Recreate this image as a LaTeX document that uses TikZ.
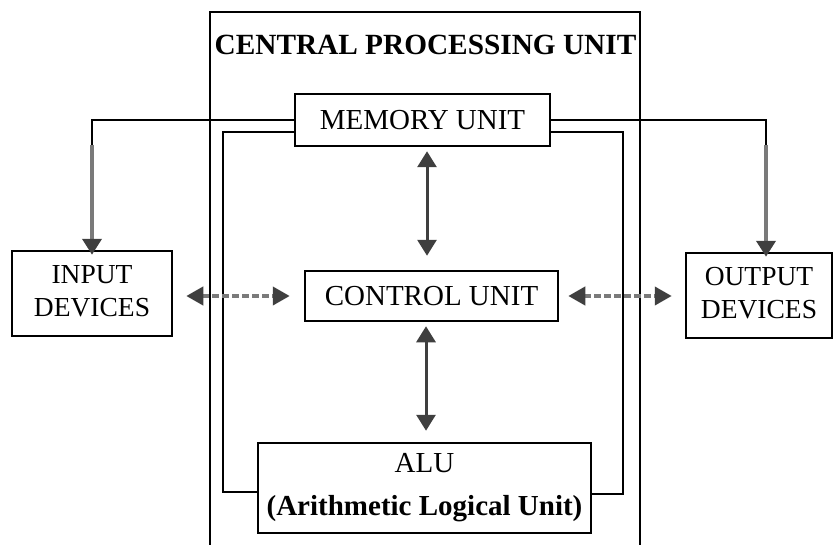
\documentclass[tikz,border=0pt]{standalone}
\usepackage{fontspec}
\setmainfont{Liberation Serif}
\usetikzlibrary{arrows.meta,calc}
\definecolor{arrgray}{HTML}{7A7A7A}
\definecolor{tipgray}{HTML}{3F3F3F}
\newcommand{\twolines}[3]{\raisebox{#3}{\begin{tabular}{@{}c@{}}#1\\#2\end{tabular}}}
\begin{document}
\begin{tikzpicture}[x=1pt,y=-1pt,
  boxstyle/.style={draw=black,line width=2.5pt,inner sep=0pt,align=center,
     font=\fontsize{29}{33}\selectfont},
  sidebox/.style={boxstyle,font=\fontsize{27.5}{33}\selectfont},
  wire/.style={draw=black,line width=2pt},
  biarrow/.style={draw=tipgray,line width=3pt,{Triangle[length=16pt,width=19pt]}-{Triangle[length=16pt,width=19pt]}},
  dasharrow/.style={draw=arrgray,line width=4pt,dash pattern=on 7pt off 3pt,
     {Triangle[length=17pt,width=18pt,color=tipgray]}-{Triangle[length=17pt,width=18pt,color=tipgray]}},
  downarrow/.style={draw=arrgray,line width=4pt,-{Triangle[length=16pt,width=19pt,color=tipgray]}}]
\useasboundingbox (0,0) rectangle (834,545);
% CPU frame (open at bottom)
\coordinate (cpubl) at (209.5,545);
\coordinate (cputl) at (209.5,12);
\coordinate (cputr) at (640,12);
\coordinate (cpubr) at (640,545);
\draw[wire] (cpubl) -- (cputl) -- (cputr) -- (cpubr);
\node[font=\fontsize{29.3}{33}\selectfont\bfseries,inner sep=0pt] (title) at (425.5,45) {CENTRAL PROCESSING UNIT};
% boxes
\node[boxstyle,minimum width=255pt,minimum height=52pt,fill=white] (mem) at (422.5,120) {MEMORY UNIT};
\node[boxstyle,minimum width=253pt,minimum height=50pt] (ctrl) at (431.5,296) {CONTROL UNIT};
\node[boxstyle,minimum width=333pt,minimum height=90pt] (alu) at (424.5,488) {ALU\\[10pt]\textbf{(Arithmetic Logical Unit)}};
\node[sidebox,minimum width=160pt,minimum height=85pt] (in) at (92,293.5) {\twolines{INPUT}{DEVICES}{5pt}};
\node[sidebox,minimum width=146pt,minimum height=85pt] (out) at (759,295.5) {\twolines{OUTPUT}{DEVICES}{7pt}};
% inner loop
\coordinate (lt) at (223,132);
\coordinate (lb) at (223,492);
\coordinate (rt) at (623,132);
\coordinate (rb) at (623,494);
\draw[wire] (mem.west |- lt) -- (lt) -- (lb) -- (alu.west |- lb);
\draw[wire] (mem.east |- rt) -- (rt) -- (rb) -- (alu.east |- rb);
% memory to input / output
\coordinate (ilc) at (92,120);
\coordinate (ild) at (92,145);
\coordinate (olc) at (766,120);
\coordinate (old) at (766,145);
\draw[wire] (mem.west) -- (ilc) -- (ild);
\draw[wire] (mem.east) -- (olc) -- (old);
\draw[downarrow] (ild) -- ([yshift=-5pt]ild |- in.north);
\draw[downarrow] (old) -- ([yshift=-5pt]old |- out.north);
% vertical bidirectional arrows
\draw[biarrow] ([shift={(4.5,4)}]mem.south) -- ([shift={(-4.5,-14)}]ctrl.north);
\draw[biarrow] ([shift={(-5.5,4)}]ctrl.south) -- ([shift={(1.5,-11)}]alu.north);
% dashed horizontal arrows
\draw[dasharrow] ([xshift=13pt]in.east |- ctrl.west) -- ([xshift=-14pt]ctrl.west);
\draw[dasharrow] ([xshift=9pt]ctrl.east) -- ([xshift=-13pt]out.west |- ctrl.east);
\end{tikzpicture}
\end{document}
